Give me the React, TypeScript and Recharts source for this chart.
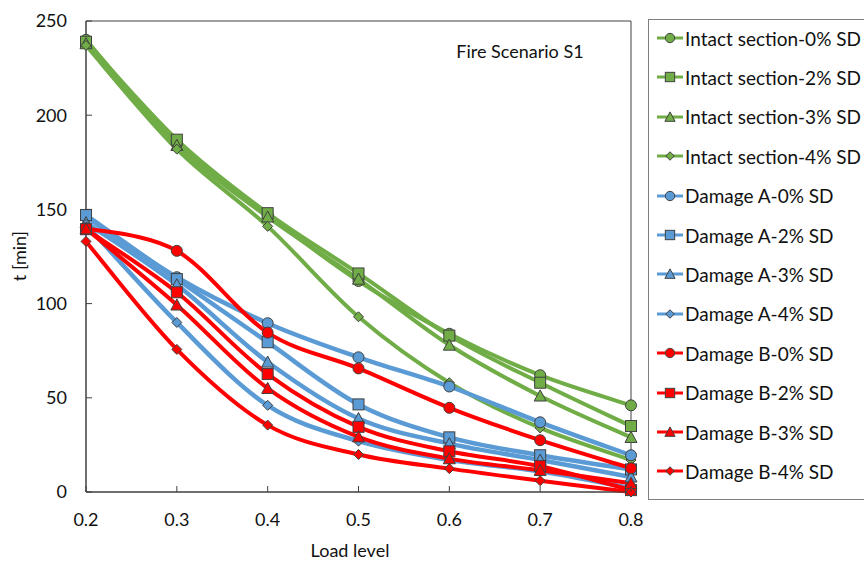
import React from "react";
import { LineChart, Line, XAxis, YAxis, Legend, Customized, ReferenceArea } from "recharts";

const loadLevels = [0.2, 0.3, 0.4, 0.5, 0.6, 0.7, 0.8];
const yTicks = [0, 50, 100, 150, 200, 250];

const intact0 = [240, 185, 147, 112, 84, 62, 46];
const intact2 = [239, 187, 148, 116, 83, 58, 35];
const intact3 = [238, 184, 146, 113, 78, 51, 29];
const intact4 = [237, 182, 141, 93, 58, 34, 17];

const damageA0 = [146, 114, 89.6, 71.5, 56, 37, 19.5];
const damageA2 = [147, 113, 79.5, 46.5, 29, 19.5, 12];
const damageA3 = [143, 110, 69, 39, 25.7, 17, 8];
const damageA4 = [142, 90, 46, 27, 17, 11, 2];

const damageB0 = [140, 128, 84.6, 65.6, 44.7, 27.5, 12.6];
const damageB2 = [139.5, 106, 62.6, 34.6, 21.6, 13.7, 1];
const damageB3 = [139.7, 99.3, 55, 29.3, 17.7, 11.5, 4.6];
const damageB4 = [133, 75.7, 35.5, 19.9, 12.4, 6, 0];

const GREEN = "#70AD47";
const BLUE = "#5B9BD5";
const RED = "#FF0000";
const EDGE = "#404040";
const FONT = "Lato, 'Open Sans', sans-serif";

type Shape = "circle" | "square" | "triangle" | "diamond";

const series: { key: string; name: string; color: string; shape: Shape; values: number[] }[] = [
  { key: "i0", name: "Intact section-0% SD", color: GREEN, shape: "circle", values: intact0 },
  { key: "i2", name: "Intact section-2% SD", color: GREEN, shape: "square", values: intact2 },
  { key: "i3", name: "Intact section-3% SD", color: GREEN, shape: "triangle", values: intact3 },
  { key: "i4", name: "Intact section-4% SD", color: GREEN, shape: "diamond", values: intact4 },
  { key: "a0", name: "Damage A-0% SD", color: BLUE, shape: "circle", values: damageA0 },
  { key: "a2", name: "Damage A-2% SD", color: BLUE, shape: "square", values: damageA2 },
  { key: "a3", name: "Damage A-3% SD", color: BLUE, shape: "triangle", values: damageA3 },
  { key: "a4", name: "Damage A-4% SD", color: BLUE, shape: "diamond", values: damageA4 },
  { key: "b0", name: "Damage B-0% SD", color: RED, shape: "circle", values: damageB0 },
  { key: "b2", name: "Damage B-2% SD", color: RED, shape: "square", values: damageB2 },
  { key: "b3", name: "Damage B-3% SD", color: RED, shape: "triangle", values: damageB3 },
  { key: "b4", name: "Damage B-4% SD", color: RED, shape: "diamond", values: damageB4 },
];

const data = loadLevels.map((load, i) => {
  const row: Record<string, number> = { load };
  series.forEach((s) => (row[s.key] = s.values[i]));
  return row;
});

// Excel-like smoothed line (Catmull-Rom through the points)
function excelSmooth(context: any) {
  let pts: number[][] = [];
  return {
    areaStart() {},
    areaEnd() {},
    lineStart() {
      pts = [];
    },
    point(x: number, y: number) {
      pts.push([+x, +y]);
    },
    lineEnd() {
      const n = pts.length;
      if (!n) return;
      context.moveTo(pts[0][0], pts[0][1]);
      for (let i = 0; i < n - 1; i++) {
        const p0 = pts[i - 1] || pts[i];
        const p1 = pts[i];
        const p2 = pts[i + 1];
        const p3 = pts[i + 2] || p2;
        context.bezierCurveTo(
          p1[0] + (p2[0] - p0[0]) / 6,
          p1[1] + (p2[1] - p0[1]) / 6,
          p2[0] - (p3[0] - p1[0]) / 6,
          p2[1] - (p3[1] - p1[1]) / 6,
          p2[0],
          p2[1]
        );
      }
    },
  };
}

function Marker({ cx, cy, shape, color, s = 1 }: { cx: number; cy: number; shape: Shape; color: string; s?: number }) {
  const common = { fill: color, stroke: EDGE, strokeWidth: 1 };
  if (shape === "circle") return <circle cx={cx} cy={cy} r={5.5 * s} {...common} />;
  if (shape === "square") {
    const h = 5.5 * s;
    return <rect x={cx - h} y={cy - h} width={2 * h} height={2 * h} {...common} />;
  }
  if (shape === "triangle") {
    const h = 6 * s;
    return <polygon points={`${cx},${cy - h} ${cx + h},${cy + h * 0.85} ${cx - h},${cy + h * 0.85}`} {...common} />;
  }
  const h = 5 * s;
  return <polygon points={`${cx},${cy - h} ${cx + h},${cy} ${cx},${cy + h} ${cx - h},${cy}`} {...common} />;
}

const XTick = (props: any) => {
  const { x, y, payload } = props;
  return (
    <g>
      <line x1={x} x2={x} y1={y} y2={y - 6} stroke={EDGE} />
      <text x={x} y={y + 34} textAnchor="middle" fontSize={18} fontFamily={FONT} fill="#111">
        {Number(payload.value).toFixed(1)}
      </text>
    </g>
  );
};

const YTick = (props: any) => {
  const { x, y, payload } = props;
  return (
    <g>
      <line x1={x} x2={x + 6} y1={y} y2={y} stroke={EDGE} />
      <text x={x - 19} y={y} dy="0.35em" textAnchor="end" fontSize={18} fontFamily={FONT} fill="#111">
        {payload.value}
      </text>
    </g>
  );
};

const LegendBox = () => (
  <div
    style={{
      border: "1px solid #7f7f7f",
      width: 240,
      height: 481,
      boxSizing: "border-box",
      background: "white",
      fontFamily: FONT,
      fontSize: 19,
      color: "#111",
    }}
  >
    {series.map((s, i) => (
      <div key={s.key} style={{ position: "absolute", left: 8, top: 19 + 39.4 * i - 12, height: 24, display: "flex", alignItems: "center" }}>
        <svg width={28} height={16} style={{ marginRight: 1 }}>
          <line x1={1} x2={27} y1={8} y2={8} stroke={s.color} strokeWidth={3} />
          <Marker cx={14} cy={8} shape={s.shape} color={s.color} s={0.85} />
        </svg>
        <span style={{ whiteSpace: "nowrap" }}>{s.name}</span>
      </div>
    ))}
  </div>
);

const Annotations = () => (
  <g fontFamily={FONT} fill="#111">
    <text x={520} y={58} textAnchor="middle" fontSize={18}>
      Fire Scenario S1
    </text>
    <text x={350} y={557} textAnchor="middle" fontSize={18}>
      Load level
    </text>
    <text x={26} y={256} textAnchor="middle" fontSize={18} transform="rotate(-90 26 256)">
      t [min]
    </text>
  </g>
);

export default function App() {
  return (
    <div style={{ position: "absolute", left: 0, top: 0, width: 864, height: 562, overflow: "hidden", background: "white" }}>
      <LineChart width={864} height={562} data={data} margin={{ top: 21, right: 233, bottom: 0, left: 0 }}>
        <XAxis
          dataKey="load"
          type="number"
          domain={[0.2, 0.8]}
          ticks={loadLevels}
          height={70}
          tickSize={0}
          tickMargin={0}
          tickLine={false}
          tick={<XTick />}
          axisLine={{ stroke: EDGE }}
        />
        <YAxis
          type="number"
          domain={[0, 250]}
          ticks={yTicks}
          width={86}
          tickSize={0}
          tickMargin={0}
          tickLine={false}
          tick={<YTick />}
          axisLine={{ stroke: EDGE }}
        />
        <ReferenceArea x1={0.2} x2={0.8} y1={0} y2={250} fill="none" stroke={EDGE} strokeWidth={1} />
        {series.map((s) => (
          <Line
            key={s.key}
            dataKey={s.key}
            name={s.name}
            type={excelSmooth as any}
            stroke={s.color}
            strokeWidth={s.color === BLUE ? 4.5 : 4}
            isAnimationActive={false}
            dot={(p: any) => <Marker key={`${s.key}-${p.index}`} cx={p.cx} cy={p.cy} shape={s.shape} color={s.color} />}
            activeDot={false}
          />
        ))}
        <Customized component={<Annotations />} />
        <Legend
          layout="vertical"
          align="center"
          verticalAlign="middle"
          content={<LegendBox />}
          wrapperStyle={{ position: "absolute", left: 648, top: 19, width: 240, height: 481 }}
        />
      </LineChart>
    </div>
  );
}
